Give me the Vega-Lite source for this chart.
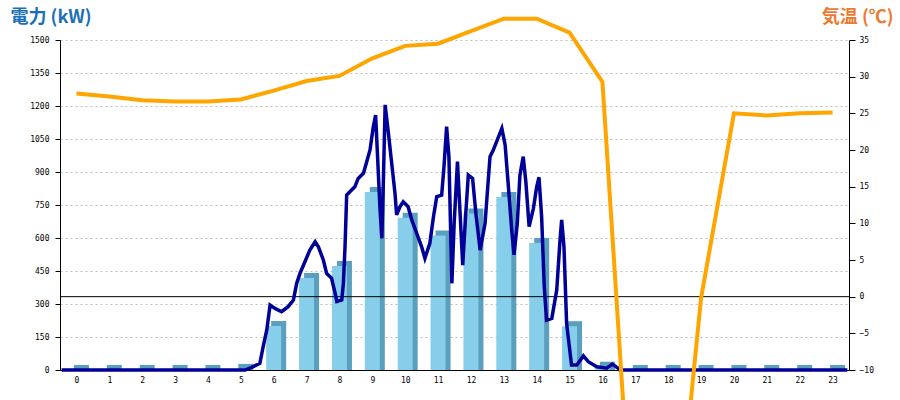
{
  "$schema": "https://vega.github.io/schema/vega-lite/v6.json",
  "width": 789,
  "height": 330,
  "autosize": {"type": "none"},
  "padding": {"left": 60, "top": 40, "right": 51, "bottom": 30},
  "background": "white",
  "config": {
    "view": {"stroke": null},
    "axis": {"labelFont": "DejaVu Sans Mono", "labelFontSize": 8, "labelColor": "black", "domainColor": "black", "tickColor": "black", "domainWidth": 1}
  },
  "datasets": {
    "bars": [
      {"hour": 0, "kw": 0}, {"hour": 1, "kw": 0}, {"hour": 2, "kw": 0}, {"hour": 3, "kw": 0},
      {"hour": 4, "kw": 0}, {"hour": 5, "kw": 5}, {"hour": 6, "kw": 200}, {"hour": 7, "kw": 418},
      {"hour": 8, "kw": 473}, {"hour": 9, "kw": 809}, {"hour": 10, "kw": 692}, {"hour": 11, "kw": 611},
      {"hour": 12, "kw": 711}, {"hour": 13, "kw": 786}, {"hour": 14, "kw": 577}, {"hour": 15, "kw": 199},
      {"hour": 16, "kw": 15}, {"hour": 17, "kw": 0}, {"hour": 18, "kw": 0}, {"hour": 19, "kw": 0},
      {"hour": 20, "kw": 0}, {"hour": 21, "kw": 0}, {"hour": 22, "kw": 0}, {"hour": 23, "kw": 0}
    ],
    "power": [
      {"hour": -0.45, "kw": 0}, {"hour": 5.13, "kw": 0}, {"hour": 5.33, "kw": 12}, {"hour": 5.58, "kw": 30},
      {"hour": 5.68, "kw": 106}, {"hour": 5.79, "kw": 182}, {"hour": 5.89, "kw": 295}, {"hour": 6.04, "kw": 280},
      {"hour": 6.24, "kw": 265}, {"hour": 6.44, "kw": 288}, {"hour": 6.6, "kw": 318}, {"hour": 6.7, "kw": 394},
      {"hour": 6.8, "kw": 439}, {"hour": 6.95, "kw": 492}, {"hour": 7.1, "kw": 545}, {"hour": 7.26, "kw": 583},
      {"hour": 7.36, "kw": 560}, {"hour": 7.51, "kw": 500}, {"hour": 7.61, "kw": 439}, {"hour": 7.76, "kw": 417},
      {"hour": 7.87, "kw": 348}, {"hour": 7.92, "kw": 311}, {"hour": 8.07, "kw": 318}, {"hour": 8.12, "kw": 394},
      {"hour": 8.17, "kw": 560}, {"hour": 8.22, "kw": 795}, {"hour": 8.37, "kw": 818}, {"hour": 8.47, "kw": 833},
      {"hour": 8.57, "kw": 871}, {"hour": 8.73, "kw": 894}, {"hour": 8.83, "kw": 947}, {"hour": 8.93, "kw": 1000},
      {"hour": 9.03, "kw": 1106}, {"hour": 9.1, "kw": 1159}, {"hour": 9.16, "kw": 970}, {"hour": 9.23, "kw": 742},
      {"hour": 9.29, "kw": 598}, {"hour": 9.33, "kw": 818}, {"hour": 9.39, "kw": 1205}, {"hour": 9.49, "kw": 1076},
      {"hour": 9.59, "kw": 939}, {"hour": 9.69, "kw": 803}, {"hour": 9.74, "kw": 705}, {"hour": 9.84, "kw": 742},
      {"hour": 9.94, "kw": 765}, {"hour": 10.09, "kw": 742}, {"hour": 10.2, "kw": 682}, {"hour": 10.35, "kw": 621},
      {"hour": 10.5, "kw": 560}, {"hour": 10.6, "kw": 508}, {"hour": 10.75, "kw": 576}, {"hour": 10.86, "kw": 697},
      {"hour": 10.96, "kw": 788}, {"hour": 11.11, "kw": 795}, {"hour": 11.18, "kw": 924}, {"hour": 11.26, "kw": 1106},
      {"hour": 11.33, "kw": 970}, {"hour": 11.42, "kw": 394}, {"hour": 11.49, "kw": 667}, {"hour": 11.59, "kw": 947},
      {"hour": 11.67, "kw": 712}, {"hour": 11.75, "kw": 477}, {"hour": 11.84, "kw": 705}, {"hour": 11.92, "kw": 886},
      {"hour": 12.05, "kw": 871}, {"hour": 12.15, "kw": 712}, {"hour": 12.28, "kw": 545}, {"hour": 12.43, "kw": 667},
      {"hour": 12.58, "kw": 970}, {"hour": 12.68, "kw": 1000}, {"hour": 12.8, "kw": 1045}, {"hour": 12.94, "kw": 1098},
      {"hour": 13.04, "kw": 1023}, {"hour": 13.14, "kw": 833}, {"hour": 13.24, "kw": 636}, {"hour": 13.31, "kw": 523},
      {"hour": 13.41, "kw": 667}, {"hour": 13.49, "kw": 886}, {"hour": 13.59, "kw": 970}, {"hour": 13.67, "kw": 856},
      {"hour": 13.77, "kw": 652}, {"hour": 13.9, "kw": 735}, {"hour": 14.0, "kw": 833}, {"hour": 14.07, "kw": 876},
      {"hour": 14.15, "kw": 697}, {"hour": 14.23, "kw": 379}, {"hour": 14.3, "kw": 227}, {"hour": 14.46, "kw": 235},
      {"hour": 14.61, "kw": 364}, {"hour": 14.71, "kw": 591}, {"hour": 14.76, "kw": 682}, {"hour": 14.83, "kw": 560},
      {"hour": 14.91, "kw": 212}, {"hour": 15.06, "kw": 23}, {"hour": 15.22, "kw": 23}, {"hour": 15.42, "kw": 64},
      {"hour": 15.57, "kw": 38}, {"hour": 15.83, "kw": 15}, {"hour": 16.13, "kw": 8}, {"hour": 16.3, "kw": 27},
      {"hour": 16.48, "kw": 8}, {"hour": 16.53, "kw": 0}, {"hour": 23.45, "kw": 0}
    ],
    "temp": [
      {"hour": 0, "c": 27.7}, {"hour": 1, "c": 27.3}, {"hour": 2, "c": 26.8}, {"hour": 3, "c": 26.6},
      {"hour": 4, "c": 26.6}, {"hour": 5, "c": 26.9}, {"hour": 6, "c": 28.1}, {"hour": 7, "c": 29.4},
      {"hour": 8, "c": 30.1}, {"hour": 9, "c": 32.5}, {"hour": 10, "c": 34.2}, {"hour": 11, "c": 34.5},
      {"hour": 12, "c": 36.2}, {"hour": 13, "c": 37.9}, {"hour": 14, "c": 37.9}, {"hour": 15, "c": 36.0},
      {"hour": 16, "c": 29.3}, {"hour": 17, "c": -40}, {"hour": 18, "c": -45}, {"hour": 19, "c": -0.2},
      {"hour": 20, "c": 25.0}, {"hour": 21, "c": 24.7}, {"hour": 22, "c": 25.0}, {"hour": 23, "c": 25.1}
    ]
  },
  "encoding": {
    "x": {
      "field": "hour", "type": "quantitative",
      "scale": {"domain": [-0.5, 23.5], "nice": false, "zero": false, "padding": 0},
      "axis": {"values": [0,1,2,3,4,5,6,7,8,9,10,11,12,13,14,15,16,17,18,19,20,21,22,23], "tickCount": 24, "format": "d", "ticks": false, "tickSize": 0, "labelPadding": 6, "labelOverlap": false, "labelFlush": false, "grid": false, "title": null, "domain": true}
    }
  },
  "layer": [
    {
      "data": {"name": "bars"},
      "mark": {"type": "bar", "orient": "vertical", "size": 15, "xOffset": 5, "yOffset": -5, "y2Offset": 0, "color": "#5a9fbd"},
      "encoding": {
        "y": {
          "field": "kw", "type": "quantitative",
          "scale": {"domain": [0, 1500], "nice": false},
          "axis": {
            "orient": "left", "values": [0,150,300,450,600,750,900,1050,1200,1350,1500], "format": "d",
            "grid": true, "gridDash": [2, 3], "gridColor": "#bbbbbb", "gridWidth": 1,
            "tickSize": 5, "labelPadding": 6,
            "title": "電力 (kW)", "titleAngle": 0, "titleAlign": "left", "titleBaseline": "middle",
            "titleX": -50, "titleY": -23, "titleFont": "Noto Sans CJK JP", "titleFontSize": 18,
            "titleFontWeight": "bold", "titleColor": "#1a70b8"
          }
        },
        "y2": {"datum": 0}
      }
    },
    {
      "data": {"name": "bars"},
      "mark": {"type": "bar", "orient": "vertical", "size": 15, "color": "#87ceeb"},
      "encoding": {
        "y": {"field": "kw", "type": "quantitative", "scale": {"domain": [0, 1500], "nice": false}, "axis": null}
      }
    },
    {
      "data": {"values": [{"hour": -0.5, "end": 23.5}]},
      "mark": {"type": "rule", "color": "black", "strokeWidth": 1},
      "encoding": {
        "x2": {"field": "end"},
        "y": {"datum": 0, "type": "quantitative", "scale": {"domain": [-10, 35], "nice": false}, "axis": null}
      }
    },
    {
      "data": {"name": "power"},
      "mark": {"type": "line", "color": "#000099", "strokeWidth": 3.5},
      "encoding": {
        "y": {"field": "kw", "type": "quantitative", "scale": {"domain": [0, 1500], "nice": false}, "axis": null}
      }
    },
    {
      "data": {"name": "temp"},
      "mark": {"type": "line", "color": "#ffa500", "strokeWidth": 4},
      "encoding": {
        "y": {
          "field": "c", "type": "quantitative",
          "scale": {"domain": [-10, 35], "nice": false, "zero": false},
          "axis": {
            "orient": "right", "values": [-10,-5,0,5,10,15,20,25,30,35], "grid": false,
            "tickSize": 6, "labelPadding": 4,
            "title": "気温 (℃)", "titleAngle": 0, "titleAlign": "right", "titleBaseline": "middle",
            "titleX": 44, "titleY": -23, "titleFont": "Noto Sans CJK JP", "titleFontSize": 18,
            "titleFontWeight": "bold", "titleColor": "#ee7a30"
          }
        }
      }
    }
  ],
  "resolve": {"scale": {"y": "independent"}}
}
